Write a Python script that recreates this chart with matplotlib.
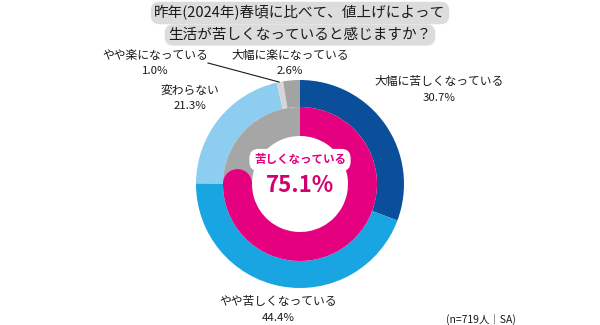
import matplotlib
matplotlib.use("Agg")
import matplotlib.pyplot as plt
from matplotlib.patches import Circle
import numpy as np

plt.rcParams['font.family'] = ['Noto Sans CJK JP', 'DejaVu Sans']

# outer ring: answers
answers = ['大幅に苦しくなっている', 'やや苦しくなっている', '変わらない',
           'やや楽になっている', '大幅に楽になっている']
shares = [30.7, 44.4, 21.3, 1.0, 2.6]
ring_colors = ['#0b4f9b', '#19a5e1', '#8dcdf0', '#d6d6d6', '#a3a3a3']

# inner ring: summary
summary_label = '苦しくなっている'
summary_share = [75.1, 24.9]
summary_colors = ['#e4007f', '#a6a6a6']

title_lines = ['昨年(2024年)春頃に比べて、値上げによって', '生活が苦しくなっていると感じますか？']
note = '(n=719人｜SA)'

H = 325
cx, cy = 300, H - 184
r_out, r_mid, r_in = 104, 77, 48

fig = plt.figure(figsize=(6, 3.25), dpi=100)
ax = fig.add_axes([0, 0, 1, 1])

ax.pie(shares, colors=ring_colors, startangle=90, counterclock=False,
       center=(cx, cy), radius=r_out,
       wedgeprops=dict(width=r_out - r_mid, linewidth=0))
ax.pie(summary_share, colors=summary_colors, startangle=90, counterclock=False,
       center=(cx, cy), radius=r_mid,
       wedgeprops=dict(width=r_mid - r_in, linewidth=0))

# rounded end of the pink arc
end_ang = np.deg2rad(90 - summary_share[0] / 100 * 360)
rc = (r_mid + r_in) / 2
ax.add_patch(Circle((cx + rc * np.cos(end_ang), cy + rc * np.sin(end_ang)),
                    (r_mid - r_in) / 2, color=summary_colors[0], lw=0, zorder=3))

ax.set_xlim(0, 600)
ax.set_ylim(0, H)
ax.set_aspect('equal')
ax.axis('off')

# title
for i, line in enumerate(title_lines):
    ax.text(300, H - 13 - 22 * i, line, ha='center', va='center', fontsize=10.5,
            color='#1a1a1a',
            bbox=dict(boxstyle='round,pad=0.25,rounding_size=0.6', fc='#dcdcdc', ec='none'))

# labels (x, y in image pixels)
label_pos = [(439, 82), (278, 302), (190, 90), (155, 55), (290, 55)]
for name, val, (x, y) in zip(answers, shares, label_pos):
    ax.text(x, H - y, name, ha='center', va='center', fontsize=8.5, color='#1a1a1a')
    ax.text(x, H - y - 16, f'{val:.1f}%', ha='center', va='center', fontsize=8.2,
            color='#1a1a1a')

# leader for the 1.0% slice
ax.plot([208, 279], [H - 63, H - 82], color='#1a1a1a', lw=0.8)

# centre
ax.text(cx, H - 160, summary_label, ha='center', va='center', fontsize=8.3,
        fontweight='bold', color=summary_colors[0], zorder=5,
        bbox=dict(boxstyle='round,pad=0.4,rounding_size=0.8', fc='white', ec='none'))
ax.text(cx, H - 185, f'{summary_share[0]:.1f}%', ha='center', va='center',
        fontsize=16, fontweight='bold', color='#d1006f', zorder=5)

ax.text(481, H - 319, note, ha='center', va='center', fontsize=7.5, color='#1a1a1a')

fig.savefig('out.png', dpi=100)
